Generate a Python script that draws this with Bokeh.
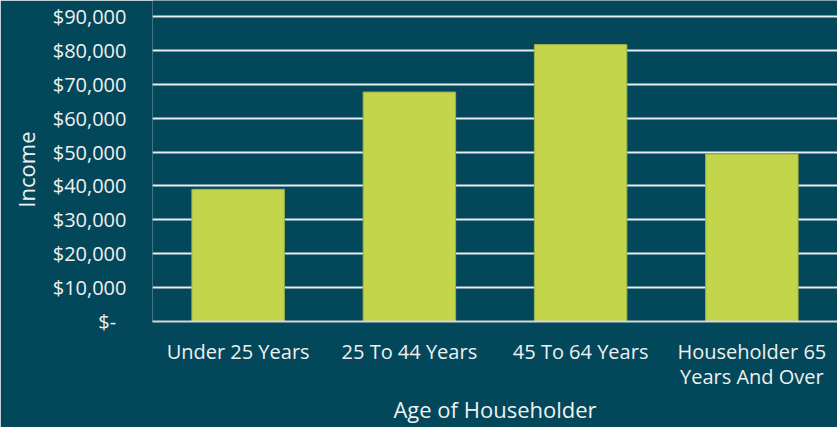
from bokeh.plotting import figure
from bokeh.models import ColumnDataSource, FactorRange, Range1d, FixedTicker, CustomJSTickFormatter
from bokeh.embed import file_html
from bokeh.resources import INLINE

categories = ["Under 25 Years", "25 To 44 Years", "45 To 64 Years", "Householder 65\nYears And Over"]
income = [39000, 67700, 81700, 49400]
y_ticks = [0, 10000, 20000, 30000, 40000, 50000, 60000, 70000, 80000, 90000]

BG = "#02475A"
BAR = "#C3D54A"
TXT = "#F0F0F0"
FONT = "Open Sans"

src = ColumnDataSource(dict(cat=categories, val=income))

p = figure(width=837, height=427, x_range=FactorRange(*categories),
           y_range=Range1d(0, 94706), output_backend="svg", toolbar_location=None,
           min_border_left=152, min_border_right=0, min_border_top=0, min_border_bottom=105)
p.background_fill_color = BG
p.border_fill_color = BG
p.outline_line_color = None

p.vbar(x="cat", top="val", width=0.54, source=src, fill_color=BAR,
       line_color="#9DB04A", line_width=1)

p.xgrid.grid_line_color = None
p.ygrid.grid_line_color = "#E8ECEE"
p.ygrid.grid_line_width = 2
p.ygrid.ticker = FixedTicker(ticks=y_ticks)

p.yaxis.ticker = FixedTicker(ticks=y_ticks)
p.yaxis.formatter = CustomJSTickFormatter(code="""
if (tick == 0) { return "$-\u00a0\u00a0"; }
return "$" + tick.toLocaleString("en-US");
""")
p.yaxis.axis_line_color = None
p.yaxis.major_tick_line_color = None
p.yaxis.minor_tick_line_color = None
p.yaxis.major_tick_out = 0
p.yaxis.major_label_standoff = 26
p.yaxis.axis_label = "Income\u00a0\u00a0\u00a0"
p.yaxis.axis_label_standoff = 9

p.xaxis.axis_line_color = "#D6D6D6"
p.xaxis.axis_line_width = 2
p.xaxis.major_tick_line_color = None
p.xaxis.major_tick_out = 0
p.xaxis.major_label_standoff = 16
p.xaxis.major_label_text_line_height = 0.95
p.xaxis.axis_label = "Age of Householder"
p.xaxis.axis_label_standoff = 1

for ax in (p.xaxis[0], p.yaxis[0]):
    ax.major_label_text_font = FONT
    ax.major_label_text_font_size = "20px"
    ax.major_label_text_color = TXT
    ax.axis_label_text_font = FONT
    ax.axis_label_text_font_size = "22px"
    ax.axis_label_text_font_style = "normal"
    ax.axis_label_text_color = TXT

html = file_html(p, INLINE)
open("out.html", "w").write(html)
